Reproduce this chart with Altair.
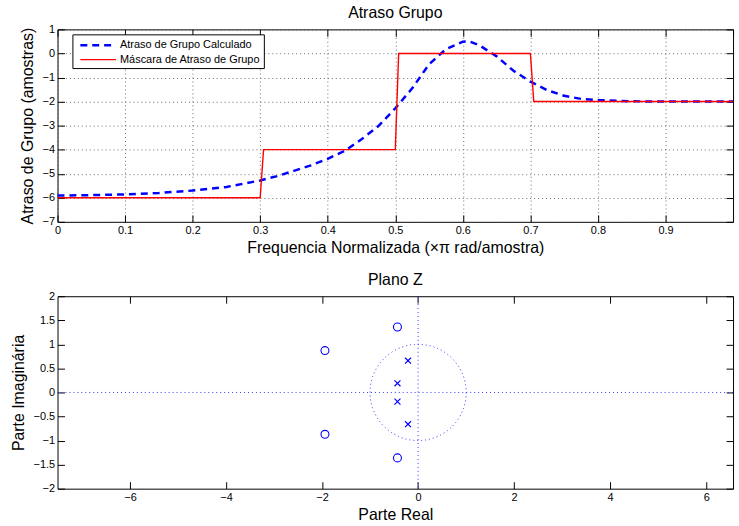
import altair as alt
import pandas as pd

# ---------------- data ----------------
freq = [0.0, 0.05, 0.1, 0.15, 0.2, 0.25, 0.3, 0.325, 0.35, 0.375, 0.4, 0.425, 0.45,
        0.475, 0.5, 0.525, 0.55, 0.575, 0.6, 0.61, 0.625, 0.65, 0.675, 0.7, 0.725,
        0.75, 0.775, 0.8, 0.85, 0.9, 0.95, 1.0]
delay = [-5.91, -5.89, -5.86, -5.80, -5.70, -5.55, -5.28, -5.10, -4.88, -4.65, -4.38,
         -4.05, -3.57, -3.02, -2.28, -1.45, -0.45, 0.18, 0.49, 0.50, 0.33, -0.12,
         -0.72, -1.17, -1.53, -1.76, -1.89, -1.94, -1.99, -2.0, -2.0, -2.0]
mask_freq = [0.0, 0.3, 0.305, 0.5, 0.505, 0.7, 0.705, 1.0]
mask_delay = [-6, -6, -4, -4, 0, 0, -2, -2]
series_names = ["Atraso de Grupo Calculado", "Máscara de Atraso de Grupo"]

zeros_re = [-0.43, -0.43, -1.94, -1.94]
zeros_im = [1.36, -1.36, 0.87, -0.87]
poles_re = [-0.21, -0.21, -0.43, -0.43]
poles_im = [0.66, -0.66, 0.19, -0.19]

top_xticks = [0, 0.1, 0.2, 0.3, 0.4, 0.5, 0.6, 0.7, 0.8, 0.9]
top_xticks_all = top_xticks + [1.0]
top_yticks = [-7, -6, -5, -4, -3, -2, -1, 0, 1]
bot_xticks = [-6, -4, -2, 0, 2, 4, 6]
bot_yticks = [-2, -1.5, -1, -0.5, 0, 0.5, 1, 1.5, 2]

# ---------------- layout / style ----------------
W = 681
H = 194
FONT = "Liberation Sans"
TICK = 7
top_xdom = [0, 1]
top_ydom = [-7, 1]
bot_xdom = [-7.51, 6.56]
bot_ydom = [-2, 2]

rows = []
for f, d in zip(freq, delay):
    rows.append({"f": f, "d": d, "s": series_names[0], "o": len(rows)})
for f, d in zip(mask_freq, mask_delay):
    rows.append({"f": f, "d": d, "s": series_names[1], "o": len(rows)})
df_top = pd.DataFrame(rows)

legend = alt.Legend(orient="none", legendX=15, legendY=5, title=None,
                    symbolType="M-0.5,0L5.5,0", symbolSize=144, labelFont=FONT,
                    labelFontSize=11, labelColor="black", strokeColor="black",
                    fillColor="white", padding=3.5, rowPadding=2, labelOffset=29.5,
                    cornerRadius=0, symbolOpacity=1)

def main_axis(title, values, grid, tpad):
    return alt.Axis(title=title, values=values, format="~g", offset=-TICK, tickSize=TICK,
                    tickColor="black", domain=False, grid=grid, gridDash=[1, 3],
                    gridColor="#555", gridOpacity=0.85, labelFont=FONT, labelFontSize=11,
                    labelColor="black", labelPadding=3, labelFlush=False, labelOverlap=False,
                    titleFont=FONT, titleFontSize=16, titleFontWeight="normal",
                    titleColor="black", titlePadding=tpad)

def tick_axis(orient, values):
    return alt.Axis(orient=orient, values=values, offset=-TICK, tickSize=TICK,
                    tickColor="black", labels=False, domain=False, grid=False, title=None)

lines = alt.Chart(df_top).mark_line().encode(
    x=alt.X("f:Q", scale=alt.Scale(domain=top_xdom, nice=False, zero=False),
            axis=main_axis("Frequencia Normalizada (×π rad/amostra)", top_xticks, True, 4)),
    y=alt.Y("d:Q", scale=alt.Scale(domain=top_ydom, nice=False, zero=False),
            axis=main_axis("Atraso de Grupo (amostras)", top_yticks, True, 7)),
    color=alt.Color("s:N", scale=alt.Scale(domain=series_names, range=["#0000ff", "#ff0000"]),
                    legend=legend),
    strokeDash=alt.StrokeDash("s:N", scale=alt.Scale(domain=series_names, range=[[7, 5], [1, 0]]),
                              legend=legend),
    strokeWidth=alt.StrokeWidth("s:N", scale=alt.Scale(domain=series_names, range=[2.5, 1.4]),
                                legend=legend),
    order="o:Q",
)

top_ticks = alt.Chart(df_top).mark_point(opacity=0).encode(
    x=alt.X("f:Q", scale=alt.Scale(domain=top_xdom, nice=False, zero=False),
            axis=tick_axis("top", top_xticks_all)),
    y=alt.Y("d:Q", scale=alt.Scale(domain=top_ydom, nice=False, zero=False),
            axis=tick_axis("right", top_yticks)),
)

top = alt.layer(lines, top_ticks).resolve_scale(x="independent", y="independent").properties(
    width=W, height=H,
    title=alt.TitleParams("Atraso Grupo", font=FONT, fontSize=16, fontWeight="normal",
                          color="black", offset=2.5, frame="group"),
)

# ---------------- bottom panel ----------------
df_z = pd.DataFrame({"re": zeros_re, "im": zeros_im})
df_p = pd.DataFrame({"re": poles_re, "im": poles_im})
df_origin = pd.DataFrame({"re": [0.0], "im": [0.0]})

bx = alt.Scale(domain=bot_xdom, nice=False, zero=False)
by = alt.Scale(domain=bot_ydom, nice=False, zero=False)
bx_axis = main_axis("Parte Real", bot_xticks, False, 4)
by_axis = main_axis("Parte Imaginária", bot_yticks, False, 7)

def BX():
    return alt.X("re:Q", scale=bx, axis=bx_axis)

def BY():
    return alt.Y("im:Q", scale=by, axis=by_axis)

zeros = alt.Chart(df_z).mark_point(shape="circle", filled=False, size=64, color="#0000ff",
                                   strokeWidth=1.1, opacity=1).encode(x=BX(), y=BY())
poles = alt.Chart(df_p).mark_point(shape="M-1,-1L1,1M-1,1L1,-1", filled=False, size=36,
                                   color="#0000ff", strokeWidth=1.2, opacity=1).encode(
    x=BX(), y=BY())

vline = alt.Chart(df_origin).mark_rule(color="#3030ff", strokeDash=[1, 3], strokeWidth=1).encode(
    x=BX())
hline = alt.Chart(df_origin).mark_rule(color="#3030ff", strokeDash=[1, 3], strokeWidth=1).encode(
    y=BY())
unit_px = H / (bot_ydom[1] - bot_ydom[0])
ucircle = alt.Chart(df_origin).mark_point(shape="circle", filled=False, size=(2 * unit_px) ** 2,
                                          color="#3030ff", strokeDash=[1, 3], strokeWidth=1,
                                          opacity=1).encode(x=BX(), y=BY())

bot_ticks = alt.Chart(df_origin).mark_point(opacity=0).encode(
    x=alt.X("re:Q", scale=bx, axis=tick_axis("top", bot_xticks)),
    y=alt.Y("im:Q", scale=by, axis=tick_axis("right", bot_yticks)),
)

bottom = alt.layer(alt.layer(vline, hline, ucircle, zeros, poles), bot_ticks).resolve_scale(
    x="independent", y="independent").properties(
    width=W, height=H,
    title=alt.TitleParams("Plano Z", font=FONT, fontSize=16, fontWeight="normal",
                          color="black", offset=2.5, frame="group"),
)

chart = alt.vconcat(top, bottom, spacing=75, bounds="flush").properties(
    padding={"left": 9, "top": 2.5, "right": 0, "bottom": 0},
    background="white",
).configure_view(stroke="black", strokeWidth=1)

chart.save("out.html", embed_options={"renderer": "svg", "actions": False})
